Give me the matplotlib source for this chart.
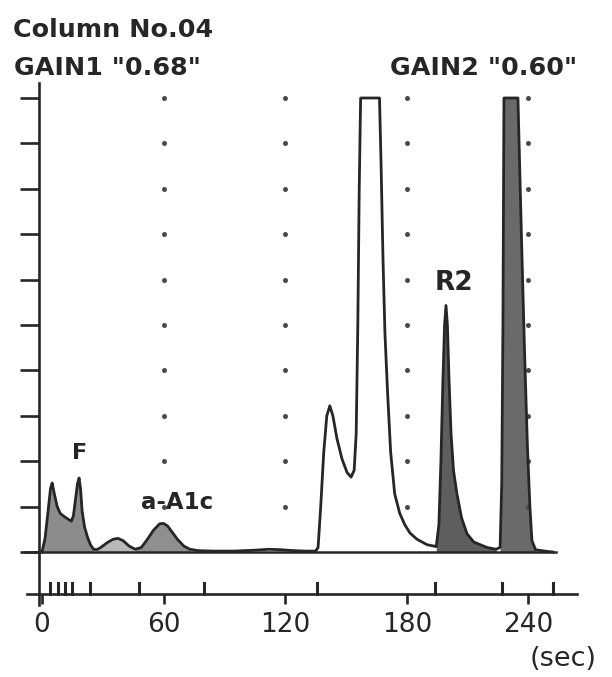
import numpy as np
import matplotlib
matplotlib.use("Agg")
import matplotlib.pyplot as plt
from matplotlib import font_manager

# chromatogram trace (time in sec, signal in chart units, clipped at 10)
time_s = [0, 1.5, 3, 4.2, 5, 6, 7.5, 9, 11, 13, 14.5, 15.5, 16.5, 17.5, 18.3, 19, 19.8,
          21, 22.5, 24, 25.5, 27, 29, 32, 35, 37.5, 40, 43, 46, 49, 52, 55, 58, 60, 62,
          64.5, 67, 70, 73, 77, 85, 95, 105, 112, 118, 124, 130, 135, 136.2, 137.5, 139,
          140.5, 142, 143.5, 145.5, 148, 150.5, 152.5, 154, 155, 155.8, 156.5, 157.2,
          166.5, 167.3, 168.2, 169.2, 170.5, 172, 174, 176.5, 179, 181.5, 185, 190, 194.5,
          195.8, 196.8, 197.8, 198.6, 199.3, 200, 200.8, 201.8, 203, 204.7, 207, 209.7,
          213, 219.5, 224, 226, 226.8, 227.4, 227.9, 234.8, 236.5, 238, 239.5, 240.7,
          241.7, 243.5, 248, 252]
signal = [0, 0.3, 0.9, 1.4, 1.52, 1.3, 1.0, 0.85, 0.78, 0.72, 0.68, 0.8, 1.15, 1.5, 1.63,
          1.4, 0.9, 0.55, 0.32, 0.15, 0.06, 0.05, 0.1, 0.2, 0.28, 0.3, 0.25, 0.13, 0.06,
          0.1, 0.28, 0.48, 0.62, 0.63, 0.57, 0.42, 0.27, 0.13, 0.06, 0.03, 0.02, 0.02,
          0.04, 0.06, 0.05, 0.03, 0.02, 0.02, 0.1, 1.0, 2.2, 3.0, 3.22, 3.0, 2.5, 2.05,
          1.75, 1.65, 1.8, 2.6, 5.0, 8.0, 10, 10, 8.5, 6.5, 4.8, 3.5, 2.2, 1.28, 0.85,
          0.6, 0.42, 0.28, 0.16, 0.12, 0.6, 2.0, 3.8, 5.0, 5.43, 5.0, 3.8, 2.6, 1.8, 1.28,
          0.75, 0.4, 0.22, 0.1, 0.06, 0.1, 1.5, 5.0, 10, 10, 7.0, 4.5, 2.3, 1.0, 0.25,
          0.05, 0.02, 0.0]

# shaded peak windows (start, end, colour)
shade_ranges = [(0, 26, "#8c8c8c"), (26, 46, "#b8b8b8"), (46, 75, "#8f8f8f"),
                (194.5, 225, "#5e5e5e"), (225, 244, "#6a6a6a")]

x_ticks = [0, 60, 120, 180, 240]
x_labels = ["0", "60", "120", "180", "240"]
y_ticks = list(range(0, 11))
dot_cols = [60, 120, 180, 240]
dot_rows = list(range(1, 11))
event_marks = [4, 8, 11.5, 15, 23.5, 48, 80, 135.5, 194, 227, 252]

peak_labels = [("F", 18.3, 2.18), ("a-A1c", 66.6, 1.08), ("R2", 203.3, 5.93)]

_names = {f.name for f in font_manager.fontManager.ttflist}
if "Liberation Sans Narrow" in _names:
    FONT = "Liberation Sans Narrow"
    SZ = dict(head=25, tick=26, unit=24, F=20, a=21, R=24)
else:
    FONT = "DejaVu Sans"
    SZ = dict(head=18.3, tick=19, unit=19.5, F=16, a=16.5, R=19)
INK = "#262626"

fig = plt.figure(figsize=(6.12, 6.77), dpi=100)
ax = fig.add_axes([0, 0, 1, 1])
# pixel mapping: 0 s at x=42px, 2.027 px/s ; baseline at y=552px, 45.4 px/unit
ax.set_xlim(-42 / 2.027, (612 - 42) / 2.027)
ax.set_ylim(-(677 - 552) / 45.4, 552 / 45.4)
ax.patch.set_alpha(0)

t = np.array(time_s)
v = np.array(signal)
for a, b, c in shade_ranges:
    m = (t >= a) & (t <= b)
    ax.fill_between(t[m], 0, v[m], color=c, lw=0, zorder=2)

ax.plot(t, v, color=INK, lw=2.0, solid_joinstyle="round", zorder=4)

# baseline
ax.plot([-8.4, 253.5], [0, 0], color=INK, lw=1.8, zorder=3)

# dotted grid
for c in dot_cols:
    ax.plot([c] * len(dot_rows), dot_rows, ls="none", marker="o", ms=3.6,
            color="#4a4a4a", mec="none", zorder=3)

# event marks above the lower axis
axis_y = -(594 - 552) / 45.4
for e in event_marks:
    ax.plot([e, e], [axis_y, axis_y + 0.24], color=INK, lw=2.2, zorder=3)

for sp in ["top", "right"]:
    ax.spines[sp].set_visible(False)
ax.spines["left"].set_position(("data", -1.5))
ax.spines["left"].set_bounds(-(605 - 552) / 45.4, (552 - 83) / 45.4)
ax.spines["bottom"].set_position(("data", axis_y))
ax.spines["bottom"].set_bounds(-7.4, 263.9)
for sp in ["left", "bottom"]:
    ax.spines[sp].set_linewidth(1.9)
    ax.spines[sp].set_color(INK)

ax.set_yticks(y_ticks)
ax.set_yticklabels([])
ax.tick_params(axis="y", direction="out", length=14, width=1.9, color=INK)
ax.set_xticks(x_ticks)
ax.set_xticklabels(x_labels, fontfamily=FONT, fontsize=SZ["tick"], color=INK)
ax.tick_params(axis="x", direction="out", length=7, width=1.9, color=INK, pad=6)

for (s, x, y), key in zip(peak_labels, ["F", "a", "R"]):
    ax.text(x, y, s, ha="center", va="center", fontfamily=FONT, fontsize=SZ[key],
            color=INK, fontweight="bold")

ax.text(257, -2.35, "(sec)", ha="center", va="center", fontfamily=FONT,
        fontsize=SZ["unit"], color=INK)

fig.text(13 / 612, 1 - 37 / 677, "Column No.04", ha="left", va="baseline",
         fontfamily=FONT, fontsize=SZ["head"], color=INK, fontweight="bold")
fig.text(14 / 612, 1 - 75 / 677, 'GAIN1 "0.68"', ha="left", va="baseline",
         fontfamily=FONT, fontsize=SZ["head"], color=INK, fontweight="bold")
fig.text(390 / 612, 1 - 75 / 677, 'GAIN2 "0.60"', ha="left", va="baseline",
         fontfamily=FONT, fontsize=SZ["head"], color=INK, fontweight="bold")

fig.savefig("out.png", dpi=100)
